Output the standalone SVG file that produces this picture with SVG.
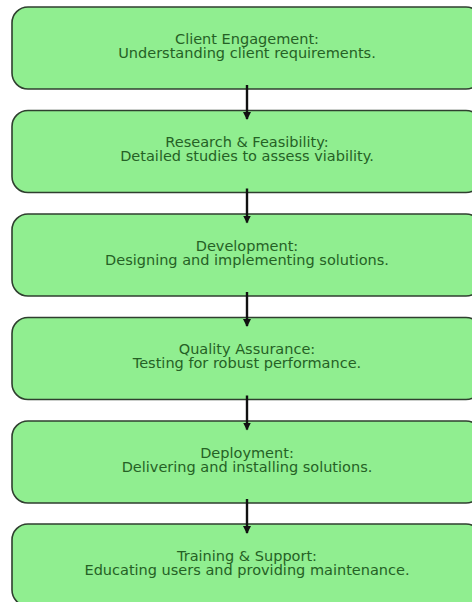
<svg xmlns="http://www.w3.org/2000/svg" width="472" height="602" viewBox="0 0 472 602">
<style>
.box{fill:#90ee90;stroke:#2f3f2f;stroke-width:1.6}
.t{font-family:"DejaVu Sans",sans-serif;font-size:13.2px;fill:#256125;text-anchor:middle}
.c{stroke:#111;stroke-width:2.4;fill:none}
</style>
<defs>
<marker id="ah" markerWidth="8" markerHeight="8" refX="7" refY="4" orient="auto" markerUnits="userSpaceOnUse">
<path d="M0,0 L8,4 L0,8 Z" fill="#111"/>
</marker>
</defs>
<rect width="472" height="602" fill="#ffffff"/>
<g id="n1"><rect class="box" x="12" y="7" width="470" height="82" rx="16"/><g transform="translate(247,0) scale(1.1,1)"><text class="t" x="0" y="44">Client Engagement:</text><text class="t" x="0" y="58">Understanding client requirements.</text></g></g>
<g id="n2"><rect class="box" x="12" y="110.5" width="470" height="82" rx="16"/><g transform="translate(247,0) scale(1.1,1)"><text class="t" x="0" y="147.5">Research &amp; Feasibility:</text><text class="t" x="0" y="161.5">Detailed studies to assess viability.</text></g></g>
<g id="n3"><rect class="box" x="12" y="214" width="470" height="82" rx="16"/><g transform="translate(247,0) scale(1.1,1)"><text class="t" x="0" y="251">Development:</text><text class="t" x="0" y="265">Designing and implementing solutions.</text></g></g>
<g id="n4"><rect class="box" x="12" y="317.5" width="470" height="82" rx="16"/><g transform="translate(247,0) scale(1.1,1)"><text class="t" x="0" y="354.5">Quality Assurance:</text><text class="t" x="0" y="368.5">Testing for robust performance.</text></g></g>
<g id="n5"><rect class="box" x="12" y="421" width="470" height="82" rx="16"/><g transform="translate(247,0) scale(1.1,1)"><text class="t" x="0" y="458">Deployment:</text><text class="t" x="0" y="472">Delivering and installing solutions.</text></g></g>
<g id="n6"><rect class="box" x="12" y="524" width="470" height="82" rx="16"/><g transform="translate(247,0) scale(1.1,1)"><text class="t" x="0" y="561">Training &amp; Support:</text><text class="t" x="0" y="575">Educating users and providing maintenance.</text></g></g>
<g id="connectors">
<line class="c" x1="247" y1="85" x2="247" y2="119" marker-end="url(#ah)"/>
<line class="c" x1="247" y1="188.5" x2="247" y2="222.5" marker-end="url(#ah)"/>
<line class="c" x1="247" y1="292" x2="247" y2="326" marker-end="url(#ah)"/>
<line class="c" x1="247" y1="395.5" x2="247" y2="429.5" marker-end="url(#ah)"/>
<line class="c" x1="247" y1="499" x2="247" y2="533" marker-end="url(#ah)"/>
</g>
</svg>
